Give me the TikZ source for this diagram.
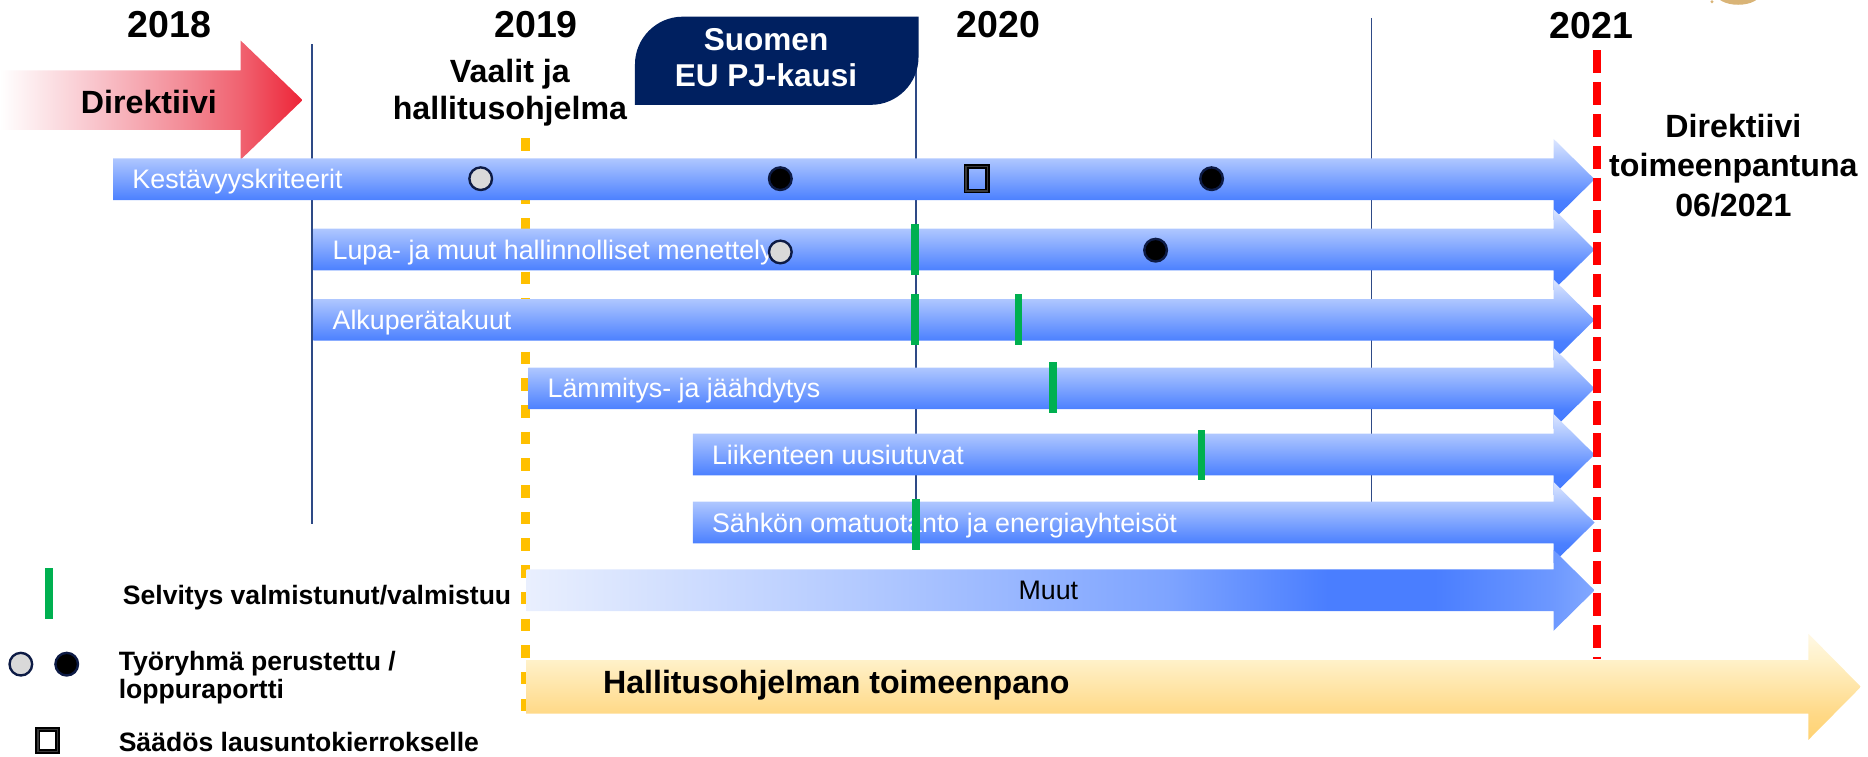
\documentclass[tikz,border=0pt]{standalone}
\usepackage{fontspec}
\setmainfont{Liberation Sans}
\definecolor{navyc}{HTML}{002060}
\definecolor{vlinec}{HTML}{2E4A86}
\definecolor{greenc}{HTML}{00B050}
\definecolor{goldc}{HTML}{FFC000}
\definecolor{graydotc}{HTML}{D9D9D9}
\definecolor{dotedge}{HTML}{0D1B45}
\definecolor{tanc}{HTML}{D9B477}
\definecolor{sqmid}{HTML}{3A3A3A}
\definecolor{bH}{HTML}{DCE6FF}
\definecolor{bT}{HTML}{AFC7FF}
\definecolor{bB}{HTML}{4B80FF}
\definecolor{bD}{HTML}{4078FF}
\definecolor{m0}{HTML}{E9EFFE}
\definecolor{m1}{HTML}{B5CBFF}
\definecolor{m2}{HTML}{7EA4FF}
\definecolor{m3}{HTML}{4A7EFF}
\definecolor{m4}{HTML}{6D98FF}
\definecolor{m5}{HTML}{82A8FF}
\definecolor{yH}{HTML}{FFF8E4}
\definecolor{yT}{HTML}{FFF1C9}
\definecolor{yB}{HTML}{FFD987}
\definecolor{yD}{HTML}{FFD272}
\definecolor{r1}{HTML}{F9C7CE}
\definecolor{r2}{HTML}{F38D98}
\definecolor{r3}{HTML}{F0616F}
\definecolor{r4}{HTML}{ED2437}
\pgfdeclareverticalshading{barshade}{100bp}{color(0bp)=(bD); color(25bp)=(bD); color(37.1bp)=(bB); color(62.9bp)=(bT); color(75bp)=(bH); color(100bp)=(bH)}
\pgfdeclarehorizontalshading{muutshade}{100bp}{color(0bp)=(m0); color(25bp)=(m0); color(40bp)=(m1); color(55bp)=(m2); color(62.5bp)=(m3); color(67.5bp)=(m3); color(73bp)=(m4); color(75bp)=(m5); color(100bp)=(m5)}
\pgfdeclareverticalshading{yelshade}{100bp}{color(0bp)=(yD); color(25bp)=(yD); color(37.4bp)=(yB); color(62.6bp)=(yT); color(75bp)=(yH); color(100bp)=(yH)}
\pgfdeclarehorizontalshading{redshade}{100bp}{color(0bp)=(white); color(25bp)=(white); color(40bp)=(r1); color(55bp)=(r2); color(65bp)=(r3); color(75bp)=(r4); color(100bp)=(r4)}
\newcommand\myfs[1]{\fontsize{#1}{#1}\selectfont}
\newcommand\bluearrow[3]{\shade[#3] (#1,#2-17.5) -- (1304,#2-17.5) -- (1304,#2-34) -- (1338.5,#2) -- (1304,#2+34) -- (1304,#2+17.5) -- (#1,#2+17.5) -- cycle;}
\begin{document}
\begin{tikzpicture}[x=1pt,y=-1pt,
  vline/.style={draw=vlinec, line width=1.1},
  greenmark/.style={draw=greenc, line width=6.5},
  golddash/.style={draw=goldc, line width=7.5, dash pattern=on 10.5 off 11.9},
  reddash/.style={draw=red, line width=6.5, dash pattern=on 19.6 off 7.2},
  graydot/.style={circle, fill=graydotc, draw=dotedge, line width=2, minimum size=19, inner sep=0},
  blackdot/.style={circle, fill=black, draw=dotedge, line width=2, minimum size=19, inner sep=0},
  sqmark/.style={rectangle, draw=black, double=sqmid, line width=1.4, double distance=1.2, minimum width=18, minimum height=20.6, inner sep=0},
  barlabel/.style={anchor=base west, inner sep=0, text=white, font=\myfs{22.5}},
  yearlbl/.style={anchor=base, inner sep=0, font=\bfseries\myfs{31.5}},
  boldlbl/.style={anchor=base, inner sep=0, font=\bfseries\myfs{27}},
  legtext/.style={anchor=base west, inner sep=0, font=\bfseries\myfs{22.3}}
]
\useasboundingbox (0,0) rectangle (1568,634.6);
% decorative sliver at top right
\fill[tanc] (1459,-6) ellipse [x radius=19pt, y radius=10pt];
\fill[tanc] (1437,1.5) circle [radius=1.4pt];
% year dividers
\draw[vline] (262,37) -- (262,440);
\draw[vline] (769,14) -- (769,440);
\draw[vline] (1151,15) -- (1151,440);
% election line
\draw[golddash] (441,116) -- (441,600);
% EU presidency box
\fill[navyc] (533,88) -- (533,54) .. controls (533,32) and (551,14) .. (573,14) -- (771,14) -- (771,48) .. controls (771,70) and (753,88) .. (731,88) -- cycle;
\node[boldlbl, text=white, font=\bfseries\myfs{26.5}] (suo1) at (643,42) {Suomen};
\node[boldlbl, text=white, font=\bfseries\myfs{26.5}] (suo2) at (643,73) {EU PJ-kausi};
% directive arrow
\shade[shading=redshade] (0,59) -- (202,59) -- (202,34) -- (254,84) -- (202,134) -- (202,109) -- (0,109) -- cycle;
\node[boldlbl] (dir) at (125,95) {Direktiivi};
% years
\node[yearlbl] (y2018) at (142,31.5) {2018};
\node[yearlbl] (y2019) at (450,31.5) {2019};
\node[yearlbl] (y2020) at (838,31.5) {2020};
\node[yearlbl] (y2021) at (1336,32.5) {2021};
\node[boldlbl] (vaal1) at (428,69) {Vaalit ja};
\node[boldlbl] (vaal2) at (428,100) {hallitusohjelma};
% work-stream arrows
\bluearrow{95}{150.5}{shading=barshade}
\bluearrow{263}{209.5}{shading=barshade}
\bluearrow{263}{268.5}{shading=barshade}
\bluearrow{443.5}{326}{shading=barshade}
\bluearrow{581.5}{381.5}{shading=barshade}
\bluearrow{581.5}{438.6}{shading=barshade}
\bluearrow{442}{495.5}{shading=muutshade}
\node[barlabel] (l1) at (111,158.5) {Kestävyyskriteerit};
\node[barlabel] (l2) at (279,217.5) {Lupa- ja muut hallinnolliset menettely};
\node[barlabel] (l3) at (279,276.5) {Alkuperätakuut};
\node[barlabel] (l4) at (459.5,334) {Lämmitys- ja jäähdytys};
\node[barlabel] (l5) at (597.5,389.5) {Liikenteen uusiutuvat};
\node[barlabel] (l6) at (597.5,446.6) {Sähkön omatuotanto ja energiayhteisöt};
\node[barlabel, anchor=base, text=black] (l7) at (880,503.5) {Muut};
% implementation arrow
\shade[shading=yelshade] (441.7,554) -- (1518,554) -- (1518,532) -- (1562,576.5) -- (1518,621) -- (1518,599) -- (441.7,599) -- cycle;
\node[boldlbl, anchor=base west] (hal) at (506,582) {Hallitusohjelman toimeenpano};
% green study marks
\draw[greenmark] (768,188) -- (768,231);
\draw[greenmark] (768,247) -- (768,290);
\draw[greenmark] (855,247) -- (855,290);
\draw[greenmark] (884,304) -- (884,347);
\draw[greenmark] (1008.5,361) -- (1008.5,403);
\draw[greenmark] (768.6,419) -- (768.6,461.5);
% working group markers
\node[graydot] (g1) at (403.5,150) {};
\node[blackdot] (b1) at (655,150) {};
\node[sqmark] (s1) at (820,150) {};
\node[blackdot] (b2) at (1017,150) {};
\node[graydot] (g2) at (655,211.5) {};
\node[blackdot] (b3) at (970,210) {};
% deadline
\draw[reddash] (1340.5,42) -- (1340.5,553);
\node[boldlbl] (dl1) at (1455,115) {Direktiivi};
\node[boldlbl] (dl2) at (1455,148) {toimeenpantuna};
\node[boldlbl] (dl3) at (1455,182) {06/2021};
% legend
\draw[greenmark] (41,477) -- (41,520);
\node[legtext] (lt1) at (103,507) {Selvitys valmistunut/valmistuu};
\node[graydot] (lg1) at (17.5,557.5) {};
\node[blackdot] (lg2) at (56,557.5) {};
\node[legtext] (lt2) at (99.5,563) {Työryhmä perustettu /};
\node[legtext] (lt3) at (99.5,586) {loppuraportti};
\node[sqmark, fill=white, minimum width=16.5, minimum height=18.5] (lg3) at (40,621.5) {};
\node[legtext] (lt4) at (99.5,631) {Säädös lausuntokierrokselle};
\end{tikzpicture}
\end{document}
